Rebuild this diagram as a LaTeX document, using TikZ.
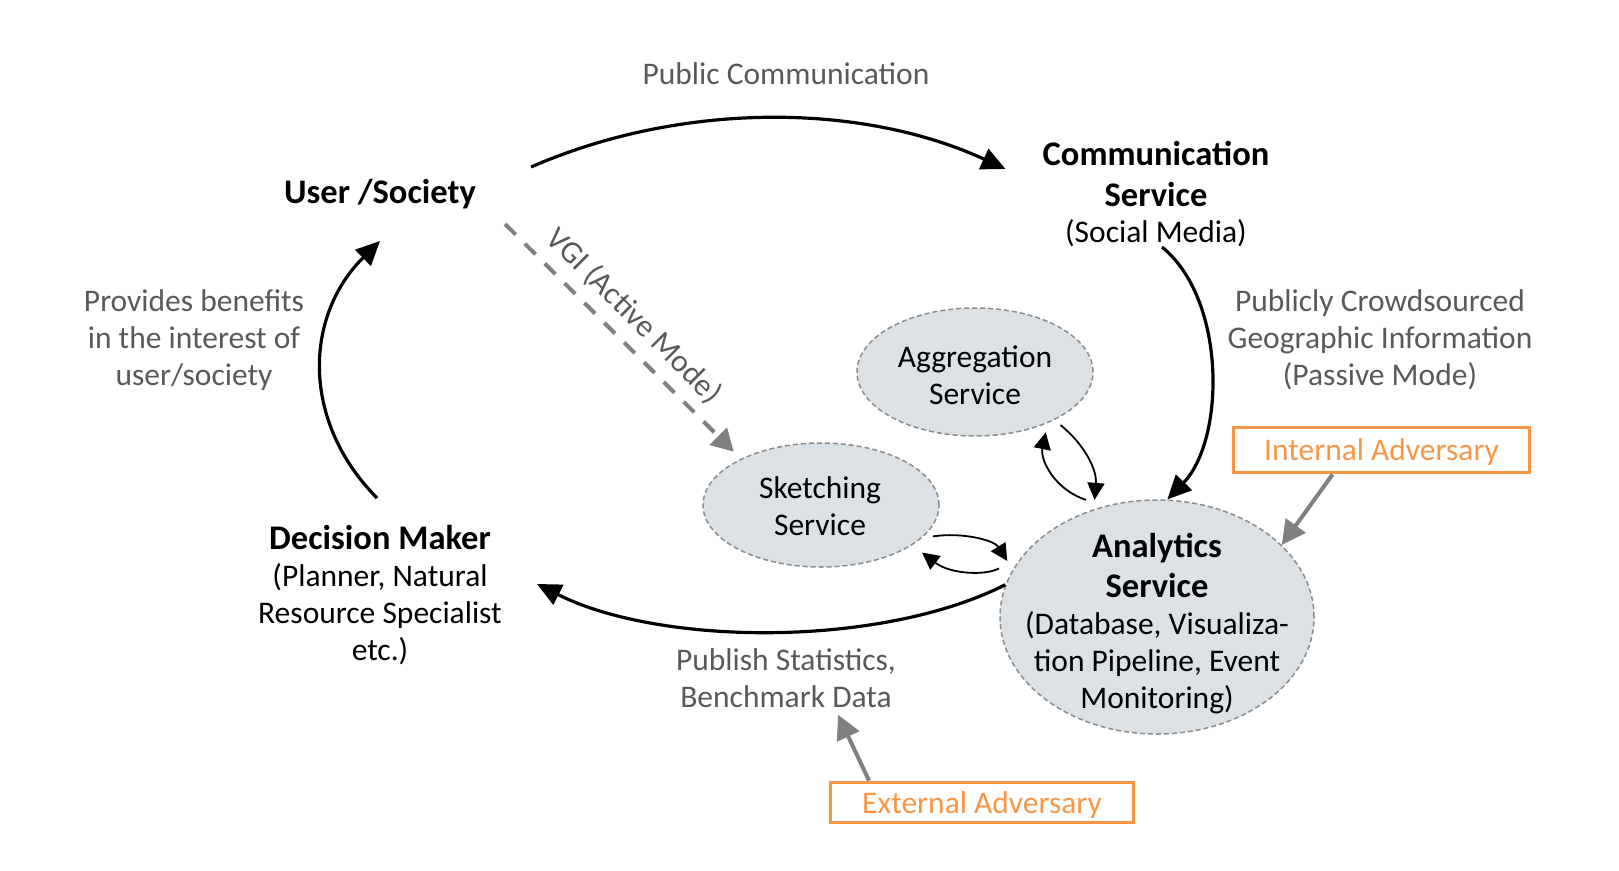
\documentclass[tikz,border=0pt]{standalone}
\usepackage{fontspec}
\setmainfont{Carlito}
\usetikzlibrary{arrows.meta,shapes.geometric}
\definecolor{txtgray}{RGB}{89,89,89}
\definecolor{svcfill}{RGB}{220,225,229}
\definecolor{dashgray}{RGB}{140,140,140}
\definecolor{advorange}{RGB}{247,150,70}
\definecolor{arrgray}{RGB}{128,128,128}
\newcommand\regfont{\fontsize{31.5}{37}\selectfont}
\newcommand\boldbig{\bfseries\fontsize{34.5}{38}\selectfont}
\begin{document}
\begin{tikzpicture}[x=1pt,y=-1pt,
  lbl/.style={font=\regfont, text=txtgray, align=center, inner sep=0pt},
  mainlbl/.style={font=\regfont, text=black, align=center, inner sep=0pt},
  svc/.style={ellipse, draw=dashgray, dash pattern=on 5pt off 3pt, line width=1.5pt, fill=svcfill, inner sep=0pt},
  flow/.style={line width=3.2pt, -{Triangle[length=24pt,width=22pt]}},
  pairarrow/.style={line width=1.8pt, -{Triangle[length=17pt,width=17pt]}},
  advbox/.style={draw=advorange, line width=3.8pt, text=advorange, font=\regfont, inner sep=0pt, text depth=0pt},
  advarrow/.style={draw=arrgray, fill=arrgray, line width=4pt, -{Triangle[length=24pt,width=24pt]}},
  vgiarrow/.style={draw=arrgray, line width=4pt, dash pattern=on 15pt off 13pt, -{Triangle[length=22pt,width=24pt,fill=arrgray]}}
]
\useasboundingbox (0,0) rectangle (1619,870);

% service ellipses
\node[svc, minimum width=236pt, minimum height=128pt] (agg) at (975,372) {};
\node[mainlbl] (aggt) at (975,375) {Aggregation\\Service};
\node[svc, minimum width=236pt, minimum height=124pt] (sk) at (821,505) {};
\node[mainlbl] (skt) at (820,506) {Sketching\\Service};
\node[svc, minimum width=314pt, minimum height=234pt] (ana) at (1157,617) {};
\node[mainlbl] (anat) at (1157,624) {{\boldbig Analytics}\\[3pt]{\boldbig Service}\\(Database, Visualiza-\\tion Pipeline, Event\\Monitoring)};

% text nodes
\node[lbl] (pc) at (786,74) {Public Communication};
\node[mainlbl, font=\boldbig] (us) at (380,194) {User /Society};
\node[mainlbl] (cs) at (1156,194) {{\boldbig Communication}\\[4pt]{\boldbig Service}\\[-1pt](Social Media)};
\node[lbl] (prov) at (194,340) {Provides benefits\\in the interest of\\user/society};
\node[lbl] (pcgi) at (1380,340) {Publicly Crowdsourced\\Geographic Information\\(Passive Mode)};
\node[mainlbl] (dm) at (380,595) {{\boldbig Decision Maker}\\(Planner, Natural\\Resource Specialist\\etc.)};
\node[lbl] (pub) at (786,678) {Publish Statistics,\\Benchmark Data};
\node[lbl, rotate=-45] (vgi) at (634,316) {VGI (Active Mode)};

% adversaries
\node[advbox, minimum width=296pt, minimum height=45pt] (ia) at (1381.5,450) {Internal Adversary};
\node[advbox, minimum width=303pt, minimum height=40pt] (ea) at (982,802.5) {External Adversary};

% main cycle
\draw[flow] ([xshift=55pt,yshift=27pt]us.east) .. controls (680,102) and (860,102) .. ([xshift=-37pt,yshift=25pt]cs.west);
\draw[flow] ([xshift=6pt]cs.south) .. controls (1227,300) and (1225,440) .. (ana.85);
\draw[flow] (ana.168) .. controls (880,648) and (660,646) .. ([xshift=35pt,yshift=11pt]dm.east);
\draw[flow] ([xshift=-3pt,yshift=27pt]dm.north) .. controls (300,420) and (305,315) .. ([yshift=-32pt]us.south);

% VGI
\draw[vgiarrow, shorten >=10pt] ([xshift=29pt,yshift=-15pt]us.south east) -- (sk.150);

% service exchanges
\draw[pairarrow] ([xshift=4pt,yshift=-6pt]agg.-30) .. controls (1085,445) and (1097,470) .. ([yshift=9pt]ana.120);
\draw[pairarrow] ([yshift=12pt]ana.124) .. controls (1055,490) and (1040,460) .. ([xshift=6pt,yshift=-6pt]agg.-40);
\draw[pairarrow] ([xshift=6pt,yshift=-3pt]sk.-15) .. controls (962,532) and (994,540) .. ([xshift=-11pt]ana.158);
\draw[pairarrow] ([xshift=-12pt,yshift=4pt]ana.163) .. controls (985,576) and (950,574) .. ([xshift=12pt,yshift=-6pt]sk.-25);

% adversary arrows
\draw[advarrow] ([xshift=-49pt]ia.south) -- (ana.30);
\draw[advarrow] ([xshift=-113pt]ea.north) -- ([xshift=52pt,yshift=-7pt]pub.south);
\end{tikzpicture}
\end{document}
